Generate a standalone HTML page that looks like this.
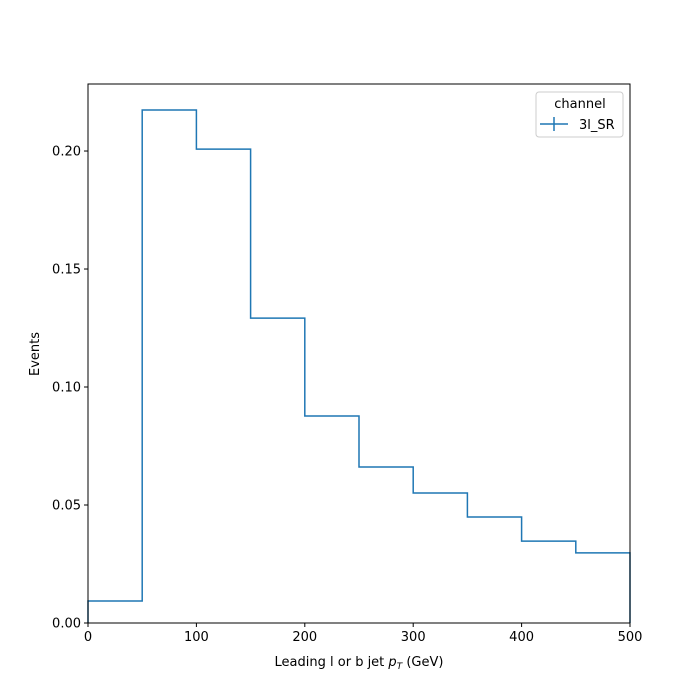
<!DOCTYPE html>
<html><head><meta charset="utf-8"><style>
html,body{margin:0;padding:0;background:#fff;overflow:hidden;width:700px;height:700px}
svg{display:block}
svg text{font-family:"DejaVu Sans","Liberation Sans",sans-serif;font-size:13px;fill:#000}
</style></head><body>
<svg id="chart" width="700" height="700" style="position:absolute;left:0;top:0">
<g id="axes"></g>
</svg>
<script>
const binEdges=[0,50,100,150,200,250,300,350,400,450,500];
const values=[0.0093,0.2174,0.2008,0.1292,0.0877,0.0661,0.0551,0.0449,0.0347,0.0297];
const xTicks=[0,100,200,300,400,500];
const yTicks=[0,0.05,0.10,0.15,0.20];
const yTickLabels=["0.00","0.05","0.10","0.15","0.20"];
const L=88,R=630,T=84,B=623,xMax=500,yMax=0.2284;
const xs=v=>L+(v/xMax)*(R-L);
const ys=v=>B-(v/yMax)*(B-T);
const NS="http://www.w3.org/2000/svg";
const g=document.getElementById('axes');
function mk(tag,attrs,text){const e=document.createElementNS(NS,tag);for(const k in attrs)e.setAttribute(k,attrs[k]);if(text!==undefined)e.textContent=text;g.appendChild(e);return e;}
let d=`M${xs(binEdges[0])},${ys(0)}`;
values.forEach((v,i)=>{d+=` L${xs(binEdges[i])},${ys(v)} L${xs(binEdges[i+1])},${ys(v)}`;});
d+=` L${xs(binEdges[binEdges.length-1])},${ys(0)}`;
const p=mk('path',{d:d,fill:'none',stroke:'#1f77b4','stroke-width':1.5});


const fr=mk('rect',{x:L,y:T,width:R-L,height:B-T,fill:'none',stroke:'#000','stroke-width':1});


xTicks.forEach(t=>{
  const x=xs(t);
  const tk=mk('line',{x1:x,x2:x,y1:B,y2:B+4,stroke:'#000'});
  
  
  const tl=mk('text',{x:x,y:B+18,'text-anchor':'middle'},String(t));
  
  
});
yTicks.forEach((t,i)=>{
  const y=ys(t);
  const tk=mk('line',{x1:L-4,x2:L,y1:y,y2:y,stroke:'#000'});
  
  
  const tl=mk('text',{x:L-7,y:y+4.5,'text-anchor':'end'},yTickLabels[i]);
  
  
});
</script>
<svg width="700" height="700" style="position:absolute;left:0;top:0">
<text x="359" y="666" text-anchor="middle">Leading l or b jet <tspan font-style="italic">p</tspan><tspan font-style="italic" font-size="9" dy="3">T</tspan><tspan dy="-3"> (GeV)</tspan></text>
<text x="39" y="354" text-anchor="middle" transform="rotate(-90 39 354)">Events</text>
<g>
<rect x="536" y="92" width="87" height="45" rx="3" fill="#fff" stroke="#ccc"/>
<text x="580" y="108" text-anchor="middle">channel</text>
<line x1="540" y1="124" x2="568" y2="124" stroke="#1f77b4" stroke-width="1.5"/>
<line x1="554" y1="117" x2="554" y2="131" stroke="#1f77b4" stroke-width="1.5"/>
<text x="579" y="129">3l_SR</text>
</g>
</svg>
</body></html>
